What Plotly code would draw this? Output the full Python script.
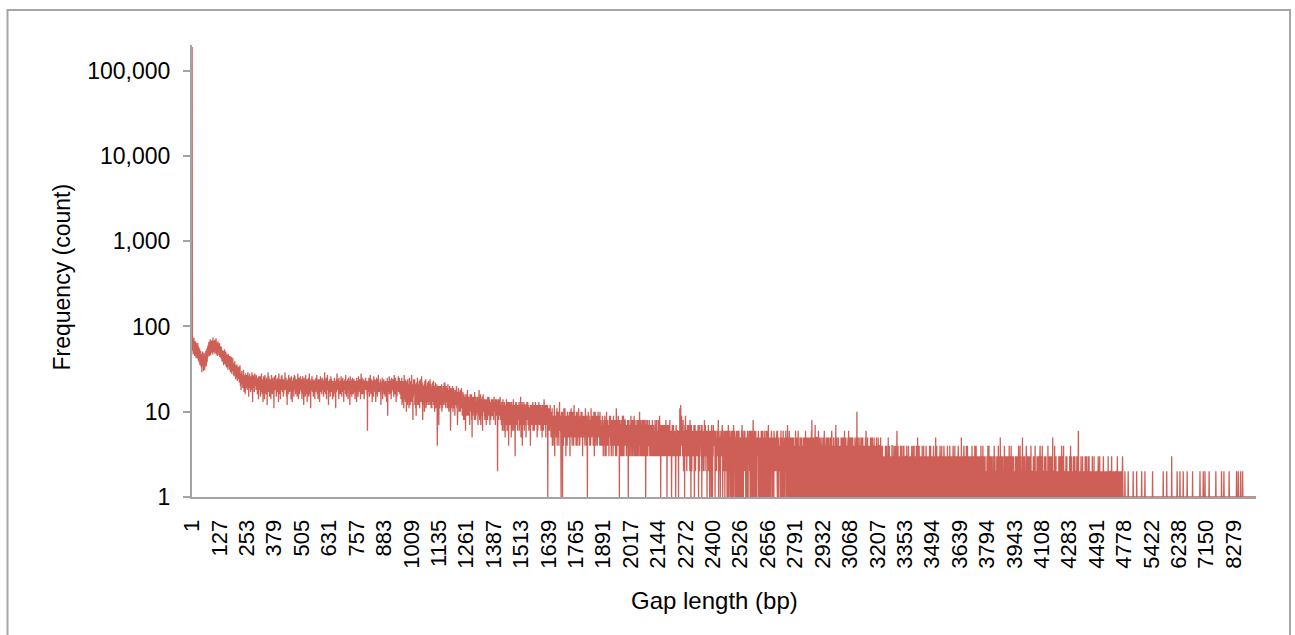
import math
import plotly.graph_objects as go

# Category axis: gap lengths in ascending order; every 126th category is labelled.
tick_labels = ["1", "127", "253", "379", "505", "631", "757", "883", "1009", "1135",
               "1261", "1387", "1513", "1639", "1765", "1891", "2017", "2144", "2272",
               "2400", "2526", "2656", "2791", "2932", "3068", "3207", "3353", "3494",
               "3639", "3794", "3943", "4108", "4283", "4491", "4778", "5422", "6238",
               "7150", "8279"]
label_step = 126

y_tick_vals = [1, 10, 100, 1000, 10000, 100000]
y_tick_text = ["1", "10", "100", "1,000", "10,000", "100,000"]

# Count for the 1 bp gap
freq_1bp = 190000

# Counts for the following categories, ten per row
freq_head = """
66 52 71 58 47 63 55 74 50 61
57 45 68 53 62 48 59 43 65 54
49 60 42 56 51 64 46 53 40 58
50 38 47 55 41 35 49 44 52 39
43 33 48 37 29 45 40 51 34 38
36 46 30 41 49 35 43 31 39 47
44 37 52 40 34 48 42 55 38 46
49 58 44 61 53 47 66 51 57 45
62 50 71 55 46 64 58 49 68 53
57 69 51 60 47 74 56 63 50 67
64 52 59 70 48 61 55 66 53 72
58 47 65 54 61 45 60 52 67 50
53 62 46 57 49 64 44 55 59 48
47 55 42 58 45 51 39 53 48 43
46 38 52 41 35 49 43 37 54 40
44 36 48 39 51 34 45 41 33 47
40 46 35 43 31 48 38 42 34 45
37 42 31 45 36 29 41 34 39 44
35 28 40 33 38 30 43 32 36 27
33 37 26 35 30 39 28 34 31 24
29 35 25 32 27 36 30 23 33 28
31 26 34 24 29 33 22 30 27 35
25 20 28 23 18 26 22 30 21 24
22 27 19 25 24 31 20 23 17 26
24 21 27 16 23 28 20 25 22 19
27 23 18 24 21 29 20 24 26 15
20 25 22 28 19 24 26 21 17 24
23 18 26 21 29 20 24 13 23 27
21 26 19 23 22 17 25 28 20 23
25 20 23 18 27 21 19 24 22 16
21 25 19 23 14 26 20 23 18 26
19 23 21 15 26 20 17 22 28 19
22 16 24 19 21 13 23 18 26 20
24 20 14 22 27 18 21 24 19 16
20 25 18 22 12 23 20 17 29 21
17 22 26 19 21 15 24 20 23 18
21 14 24 20 27 18 22 19 16 25
24 19 22 17 23 11 20 26 18 22
18 23 20 27 21 18 15 23 20 24
22 17 21 25 19 23 13 22 28 18
19 23 16 21 24 14 22 20 18 26
23 18 27 21 17 22 19 24 15 22
16 21 24 18 23 20 29 18 22 19
22 25 19 15 21 23 12 22 20 24
20 16 23 27 18 22 20 17 25 21
24 20 18 22 14 26 19 23 21 13
18 23 21 17 25 20 22 15 20 27
21 18 26 20 23 16 22 19 24 17
23 20 15 24 19 28 18 21 14 22
19 25 20 16 23 18 22 26 20 18
22 17 24 20 14 23 19 26 21 16
18 22 12 20 25 18 22 20 23 15
20 27 19 16 22 18 24 21 13 23
23 18 21 25 20 15 22 19 28 17
16 21 19 23 11 21 24 18 20 22
26 20 17 22 18 24 15 21 23 19
18 23 20 14 24 20 22 17 25 18
22 19 27 21 16 23 18 20 14 24
20 15 22 24 19 13 22 20 18 26
17 24 18 21 23 16 20 25 19 22
21 18 23 15 20 24 17 22 29 20
19 22 16 24 18 21 25 14 22 18
23 27 20 18 22 19 12 23 20 17
18 21 24 20 15 23 19 26 17 22
24 17 20 22 18 14 23 20 22 19
15 22 19 25 21 18 23 16 20 11
22 20 24 17 22 28 18 21 19 24
18 23 20 14 25 19 22 23 16 21
22 19 16 23 26 18 20 15 24 20
17 21 25 18 22 23 13 22 19 23
20 24 18 22 16 27 20 18 23 15
23 17 22 19 24 20 14 21 25 18
19 22 20 23 12 18 26 22 16 20
24 18 21 15 23 20 18 25 20 17
16 22 19 24 17 22 23 20 14 22
21 18 23 20 22 13 25 19 21 18
18 23 15 20 26 21 17 22 19 24
22 19 21 14 20 23 28 18 21 16
20 25 18 22 18 16 23 20 24 17
14 21 23 19 22 20 18 25 18 21
23 18 20 16 22 6 19 23 17 21
19 22 25 18 15 21 23 18 27 20
21 16 20 23 18 24 20 13 22 18
18 23 21 15 26 19 17 21 20 24
22 19 23 13 20 23 18 25 16 21
20 15 24 21 17 27 21 18 22 19
17 22 18 20 24 16 22 12 21 20
21 18 22 25 19 14 23 20 18 22
24 20 16 19 22 21 15 23 20 17
18 21 20 13 23 18 25 19 9 22
20 17 23 21 18 26 16 20 24 18
16 23 19 22 14 20 25 18 21 22
21 18 24 17 22 19 15 22 27 19
19 22 16 21 25 18 21 13 23 18
23 15 20 22 18 21 20 26 17 21
18 21 25 19 16 22 18 20 23 14
21 14 18 25 12 19 16 23 13 20
17 22 11 19 27 15 20 14 24 16
13 20 16 23 10 18 22 15 19 12
24 15 19 13 21 17 11 20 25 16
16 12 22 18 14 23 17 13 27 19
14 21 13 17 8 20 15 24 16 18
19 16 24 12 18 14 21 11 17 9
22 13 17 20 15 25 12 18 14 21
12 19 15 23 17 11 20 16 24 13
18 14 21 16 26 13 17 22 12 8
15 20 12 18 14 21 16 10 19 23
21 13 17 24 11 16 20 14 18 12
16 22 14 13 19 15 23 12 17 20
13 18 20 24 12 17 14 21 11 16
19 11 16 14 22 13 18 15 23 12
14 20 13 17 10 19 15 22 16 11
17 12 18 15 21 14 4 16 13 20
12 19 14 7 16 20 13 18 11 15
20 13 16 18 12 15 21 10 17 14
11 17 14 20 15 12 18 13 22 16
15 22 12 16 19 11 14 20 13 17
18 13 19 11 16 21 12 15 18 10
12 16 14 20 13 17 11 6 15 19
17 11 15 13 18 12 20 14 10 16
13 19 12 16 11 15 17 9 18 14
16 12 18 14 20 13 11 17 12 7
11 15 13 19 12 16 14 10 17 13
14 18 10 13 16 11 15 19 12 14
13 9 15 11 17 10 14 8 12 16
10 14 12 8 15 11 6 13 16 11
12 16 9 13 11 18 10 14 9 12
15 10 13 9 14 7 12 16 11 13
11 14 10 16 8 12 5 13 10 15
9 12 15 10 13 11 14 8 17 10
14 10 8 12 15 9 13 11 12 10
10 15 12 7 11 14 9 12 18 11
12 8 14 11 13 16 7 10 14 9
9 13 11 15 6 12 10 16 11 13
14 10 12 9 11 8 14 12 10 12
11 7 14 13 9 12 11 8 15 13
10 13 9 15 12 10 14 11 7 12
13 11 8 12 9 14 10 12 13 9
9 14 10 11 13 8 12 15 10 11
12 10 13 7 14 11 9 12 14 10
11 13 9 2 10 14 11 8 10 13
14 9 12 10 11 15 8 12 11 9
11 7 13 9 12 6 10 8 14 9
8 12 6 10 7 13 9 11 5 12
10 7 12 8 14 9 11 6 9 13
12 9 6 11 4 13 8 10 12 7
9 13 10 7 12 8 5 11 13 9
11 6 9 12 10 7 14 9 6 11
7 12 10 8 3 11 9 13 7 12
13 8 7 11 10 6 12 9 11 8
9 11 13 6 9 12 7 10 8 15
10 5 8 12 11 7 13 4 10 8
7 12 10 8 13 9 6 11 7 12
12 8 7 10 5 12 9 8 13 10
8 10 13 7 12 9 11 6 9 11
11 7 9 12 4 10 8 12 7 10
7 12 10 8 9 13 6 11 12 8
10 9 6 12 8 10 7 13 9 11
12 7 11 9 12 5 10 8 6 12
8 11 9 13 7 10 12 7 11 9
10 8 12 6 10 7 9 11 5 12
9 12 7 10 6 11 8 14 9 10
7 10 9 12 8 5 11 7 12 9
11 8 12 9 1 10 7 9 11 6
9 11 6 10 8 12 7 10 9 5
8 5 10 7 11 4 8 6 9 5
6 9 4 8 12 7 3 9 7 6
9 6 8 5 10 7 11 4 7 9
5 8 10 6 8 4 9 7 13 6
8 6 9 7 5 1 8 10 6 7
7 10 1 8 5 9 4 8 11 6
10 5 7 11 6 8 9 3 8 6
7 6 9 4 10 5 8 7 9 8
5 8 6 10 7 6 3 9 7 10
9 11 6 5 9 8 4 10 5 7
6 8 10 4 7 12 6 5 8 6
9 5 6 8 4 10 7 6 9 4
6 8 10 5 9 6 11 7 4 8
8 4 7 9 6 8 5 10 7 6
5 10 8 6 3 8 9 6 5 8
8 6 9 7 5 4 8 11 6 9
6 8 4 9 7 6 1 8 7 5
10 6 8 5 9 7 6 4 8 7
7 4 8 11 6 9 5 7 6 8
8 9 6 4 8 5 10 7 3 8
5 8 10 6 7 4 8 9 6 5
8 6 4 9 5 10 7 5 8 9
6 9 7 4 10 6 8 5 4 7
6 7 5 8 4 9 5 7 6 3
7 5 8 6 4 5 9 3 8 5
5 8 3 7 10 6 4 8 7 6
8 4 7 5 6 3 7 5 9 6
6 7 9 4 8 5 3 7 5 8
4 5 6 8 3 6 9 4 7 5
5 8 4 6 5 7 3 8 6 11
8 3 5 7 4 8 5 6 9 4
6 4 8 1 7 5 8 3 6 7
7 5 3 8 5 4 6 9 3 5
4 7 9 6 3 5 8 4 5 8
8 5 4 7 6 3 7 5 4 6
5 8 3 5 1 6 4 8 6 3
7 4 6 3 7 5 9 4 4 6
3 7 8 5 4 7 3 6 8 5
6 9 4 3 6 8 5 4 7 3
5 4 6 4 8 3 7 5 4 8
3 6 8 5 4 6 10 3 5 4
8 4 5 3 7 4 6 8 3 5
4 7 3 8 5 6 4 3 7 8
5 3 7 4 1 6 8 5 3 7
7 5 4 8 3 5 7 4 4 6
4 8 5 3 7 4 5 7 3 5
5 3 7 4 6 8 3 5 7 4
7 4 3 6 5 4 3 8 5 7
3 7 5 4 8 3 6 4 5 3
5 4 8 3 4 7 5 3 9 5
4 5 7 1 5 3 7 4 6 3
7 3 5 4 3 7 4 5 7 4
3 7 4 5 6 3 5 8 4 5
4 5 1 7 3 5 4 7 5 3
7 4 5 3 5 8 3 5 6 4
5 6 3 1 4 5 7 3 5 4
3 5 7 4 5 3 4 6 3 5
5 3 1 5 7 4 5 3 4 6
6 4 5 3 4 1 6 5 3 5
4 11 5 8 3 12 6 4 5 9
"""

freq_mid = """
5 7 4 6 3 5 8 4 2 5
4 6 5 1 7 4 3 9 4 6
6 3 5 2 6 4 7 4 5 3
5 4 7 5 3 6 4 2 8 4
3 6 1 5 7 4 2 6 5 4
6 5 3 4 6 5 7 3 1 6
4 7 5 2 5 3 6 5 3 5
5 3 6 4 5 7 4 1 6 4
7 2 5 6 3 4 5 6 4 7
4 5 1 7 3 6 3 5 6 2
6 4 5 3 8 4 5 2 7 5
3 6 4 5 4 6 1 5 4 6
5 3 7 2 5 3 6 4 1 3
4 6 3 5 6 1 5 7 2 5
6 1 5 4 3 7 4 5 4 6
4 5 6 1 5 4 6 3 5 2
5 4 3 6 4 5 3 6 8 1
3 6 5 4 2 4 5 1 3 5
6 4 5 3 4 5 7 4 1 3
4 5 2 6 5 3 3 5 1 6
5 3 6 4 2 6 4 5 1 3
4 6 1 5 7 3 1 4 6 4
3 5 4 1 4 5 6 1 2 5
6 1 5 3 6 4 3 1 7 4
4 3 6 5 1 2 5 4 1 3
5 6 1 4 5 3 6 1 4 6
3 1 5 6 1 5 4 2 3 1
5 4 3 1 4 6 3 7 1 5
4 6 2 1 5 4 5 3 6 2
6 3 4 5 1 5 4 1 4 5
1 5 6 4 5 1 5 4 3 6
3 4 2 6 1 3 6 5 1 3
5 6 3 1 5 4 1 5 8 4
4 1 5 2 4 6 1 3 5 1
6 4 1 5 3 1 5 4 3 5
3 5 6 1 5 3 4 1 5 4
1 4 3 5 2 6 1 4 5 3
4 6 1 3 5 4 5 1 1 6
3 1 5 4 2 5 1 6 3 4
5 3 1 6 4 1 5 4 7 3
4 1 3 4 5 4 1 5 2 5
1 4 6 5 3 2 5 1 4 4
5 3 1 1 6 5 4 2 3 5
4 5 3 2 4 3 5 6 2 1
6 1 5 3 1 5 3 4 2 4
3 4 1 5 3 1 6 1 5 4
4 1 2 5 1 4 6 3 1 4
3 1 4 5 3 1 5 2 6 3
5 4 1 2 4 1 7 3 4 1
3 5 2 1 6 4 1 3 4 5
1 4 3 5 1 2 5 1 3 4
5 1 4 3 2 5 1 4 3 1
3 4 1 6 2 4 3 1 5 4
1 4 5 3 1 6 3 2 4 1
4 3 1 5 2 1 4 5 3 1
5 1 4 1 3 3 4 1 5 3
3 4 1 5 4 2 1 4 2 6
1 4 3 1 5 4 2 3 1 5
4 2 5 2 1 3 4 1 5 3
1 3 4 5 1 2 6 4 8 1
4 5 1 4 3 1 3 5 2 4
3 1 4 7 2 4 1 1 4 5
5 4 1 3 5 2 2 1 6 4
2 1 5 4 1 3 5 4 1 3
4 1 3 4 5 1 4 2 3 1
3 5 1 4 2 6 1 4 3 1
1 3 4 5 2 1 4 3 1 5
4 1 2 4 3 5 1 5 3 2
3 4 1 1 5 4 2 4 1 6
5 1 4 3 2 1 4 1 5 3
1 4 3 4 1 2 5 3 7 1
3 4 1 5 1 4 3 1 4 2
5 2 4 1 3 4 1 3 4 1
4 1 5 3 2 1 4 5 1 3
1 1 4 5 3 2 4 1 6 2
3 4 1 2 5 4 1 3 4 1
4 1 3 4 5 2 1 6 3 4
1 3 4 5 1 4 2 3 1 5
3 5 1 2 4 1 5 3 4 1
4 1 3 1 4 3 5 1 4 2
1 3 4 5 2 10 1 4 3 1
3 5 1 4 1 4 3 1 4 5
1 4 2 3 4 1 5 3 1 4
4 1 5 3 2 1 4 3 1 2
3 1 4 1 5 4 1 6 3 1
1 4 3 1 5 2 4 1 3 1
4 2 1 3 4 1 1 4 5 3
1 5 3 4 2 1 5 3 1 4
4 1 3 1 5 3 1 4 2 3
3 4 1 2 1 5 3 1 4 3
1 4 3 5 1 2 4 1 3 4
4 1 3 2 5 1 4 3 1 3
"""

# Long tail, one digit per category
freq_tail = """
2141123132 3121314121 2342112315 1321413121 3112314413 2131243121
1342311236 2131413121 3213142314 1231312421 2412131213 3121413121
1243121312 2131312431 3121413141 1312131243 2131514121 3421213131
1312141213 2141312121 3124213132 1312131214 2131413121 3121312431
1213121513 2141312121 3121213431 1312141213 2131243121 3121312131
1413121312 2141213121 3121312431 1312141213 2131213121 3421312131
1213151213 2131213421 3121312141 1314121213 2131213121 3121412131
1213121413 2134213121 3121312131 1312141213
2131413121 3121312112 1213121413 2141213121 1312121312 2121314121
3121212131 1213141213 2131512121 3121213112 1214121312 2131213121
1312141213 2121413121 3121312112 1213121213 2131213141 1312141312
2121315121 3121213112 1213421213 2131212131 1312141212 2121213121
3121412112 1213121213 2131213421 1312121412 2121213121 3121312112
1214121213 2131213121 1312151212 2121413121 3121212112 1213121213
2131214121 1312141212 2121213121 3121212112 1213121413 2131212121
1312121312 2121213121 3126212112 1212131212
2131212121 2121312112 3121212131 2131212121 2112121312 1212131212
1212121212 2121312112 2312121212 1212121231 2112121212 1212112121
3121212112 2121213121 2112121212 1212121122 2131212121 2121212112
1212123211
1111111211 1111111111 1121111111 1111111111 1111121111 1111111111
1211111111 1111111111 1111211111 1111111112 1111111111 1111111111
1111111111 1111211111 1111111111 1111111111 1111111111 1111111111
1112111111 1111111112 1111111111 1111111111 1131111111 1111111111
1111111211 1111111111 2111111111 1111121111 1111111111 1112111111
1111111111 1111111121 1111111111 1111111111 1111111111 1121111111
1111111211 1111121111 1111111111 1111211111 1111111111 1111111111
1111121111 1111111111 1111111111 1211111111 1121111111 1111111111
1111112111 1111111111 1111111111 1111111111 2111111121 1111111112
1111111121 1111111111 1111111111 1111111111 1111111111 1111111111
1111111111
"""


def parse_ints(block):
    return [int(v) for v in block.split()]


def parse_digits(block):
    return [int(c) for row in block.split() for c in row]


freq = [freq_1bp] + parse_ints(freq_head) + parse_ints(freq_mid) + parse_digits(freq_tail)
n_cat = len(freq)
cat_index = list(range(n_cat))

# Canvas and plot-area geometry (pixels)
W, H = 1295, 635
ML, MR, MT, MB = 192, 39, 45, 138
PW, PH = W - ML - MR, H - MT - MB


def paper_x(px):
    return (px - ML) / PW


def paper_y(py):
    return (H - MB - py) / PH


LINE_RED = "#CD5F57"
AXIS_GREY = "#A3A3A3"
FONT = "Liberation Sans, Arial, Helvetica, sans-serif"

fig = go.Figure()
fig.add_trace(go.Scatter(
    x=cat_index, y=freq, mode="lines",
    line=dict(color=LINE_RED, width=1.3, simplify=False),
    hoverinfo="skip", showlegend=False,
))

fig.update_layout(
    width=W, height=H,
    margin=dict(l=ML, r=MR, t=MT, b=MB, pad=0),
    paper_bgcolor="white", plot_bgcolor="white",
    font=dict(family=FONT, color="black"),
    showlegend=False,
    xaxis=dict(
        range=[-0.5, n_cat - 0.5],
        tickmode="array",
        tickvals=[i * label_step for i in range(len(tick_labels))],
        ticktext=tick_labels,
        tickangle=-90,
        tickfont=dict(size=22, family=FONT, color="black"),
        ticks="",
        ticklabelstandoff=12,
        showline=True, linecolor=AXIS_GREY, linewidth=2,
        showgrid=False, zeroline=False,
        layer="below traces",
        fixedrange=True,
    ),
    yaxis=dict(
        type="log",
        range=[0, math.log10(200000)],
        tickmode="array",
        tickvals=y_tick_vals,
        ticktext=y_tick_text,
        tickfont=dict(size=23, family=FONT, color="black"),
        ticks="outside", ticklen=7, tickwidth=2, tickcolor=AXIS_GREY,
        ticklabelstandoff=8,
        showline=True, linecolor=AXIS_GREY, linewidth=2,
        showgrid=False, zeroline=False,
        layer="below traces",
        fixedrange=True,
    ),
    annotations=[
        dict(text="Frequency (count)", xref="paper", yref="paper",
             x=paper_x(61), y=paper_y(277.5), xanchor="center", yanchor="middle",
             textangle=-90, showarrow=False,
             font=dict(size=23, family=FONT, color="black")),
        dict(text="Gap length (bp)", xref="paper", yref="paper",
             x=paper_x(714.5), y=paper_y(600), xanchor="center", yanchor="middle",
             showarrow=False,
             font=dict(size=24, family=FONT, color="black")),
    ],
    shapes=[
        # chart-area border
        dict(type="rect", xref="paper", yref="paper",
             x0=paper_x(7.5), x1=paper_x(1290), y0=paper_y(660), y1=paper_y(10),
             line=dict(color="#A6A6A6", width=2), fillcolor="rgba(0,0,0,0)",
             layer="below"),
    ],
)

fig.write_html("out.html")
